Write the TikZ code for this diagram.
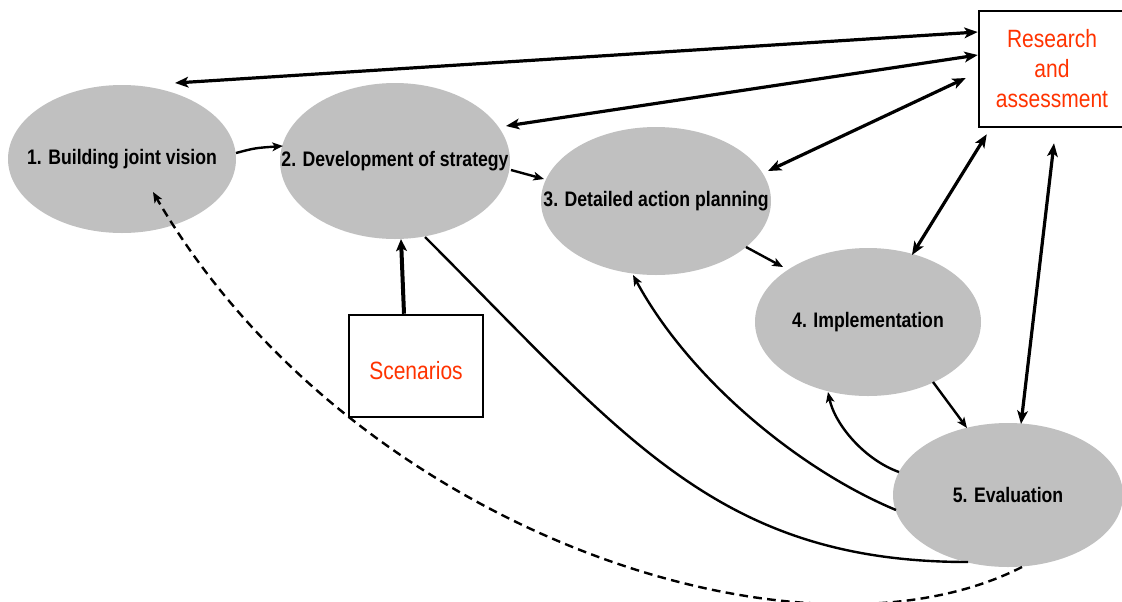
\documentclass[tikz,border=0pt]{standalone}
\usepackage{fontspec}
\setmainfont{Liberation Sans}[FakeStretch=0.84]
\usetikzlibrary{arrows.meta,calc,shapes.geometric}
\definecolor{orng}{RGB}{255,51,0}
\definecolor{ellgray}{RGB}{192,192,192}
\begin{document}
\begin{tikzpicture}[x=0.75pt,y=-0.75pt,
  stage/.style={ellipse, fill=ellgray, inner sep=0pt, font=\bfseries\fontsize{15.75}{18}\selectfont},
  src/.style={draw, line width=1.9pt, inner sep=0pt, text=orng, font=\fontsize{18.75}{22.5}\selectfont, align=center},
  link/.style={line width=2.4pt, {Stealth[length=10pt,width=8pt,inset=2.5pt]}-{Stealth[length=10pt,width=8pt,inset=2.5pt]}},
  flow/.style={line width=1.8pt, -{Stealth[length=8pt,width=6.5pt,inset=2pt]}},
  plainflow/.style={line width=1.8pt},
  dashflow/.style={line width=1.8pt, dash pattern=on 6.5pt off 4pt, -{Stealth[length=8pt,width=6.5pt,inset=2pt]}},
  feed/.style={line width=3pt, -{Stealth[length=9pt,width=8pt,inset=2pt]}}]
\useasboundingbox (0,0) rectangle (1122,601);
\clip (0,0) rectangle (1122,601);
\fill[white] (0,0) rectangle (1122,601);

% stages
\node[stage, minimum width=171pt, minimum height=111pt] (e1) at (122,159) {\makebox[0pt]{1. Building joint vision}};
\node[stage, minimum width=172.5pt, minimum height=117pt] (e2) at (395,161) {\makebox[0pt]{2. Development of strategy}};
\node[stage, minimum width=172.5pt, minimum height=111pt] (e3) at (656,201) {\makebox[0pt]{3. Detailed action planning}};
\node[stage, minimum width=169.5pt, minimum height=111pt] (e4) at (868,322) {\makebox[0pt]{4. Implementation}};
\node[stage, minimum width=172.5pt, minimum height=108pt] (e5) at (1008,495) {\makebox[0pt]{5. Evaluation}};

% sources
\node[src, minimum width=109.5pt, minimum height=87pt] (res) at (1052,69) {Research\\and\\assessment};
\node[src, minimum width=100.5pt, minimum height=76.5pt, text height=21pt, text depth=1pt] (scen) at (416,366) {Scenarios};

% research links
\draw[link] ($(res.west)+(0,-37)$) -- ($(e1)+(53,-76)$);
\draw[link] ($(res.west)+(0,-14)$) -- ($(e2)+(111,-35)$);
\draw[link] ($(res.west)+(-12,9)$) -- ($(e3)+(112,-30)$);
\draw[link] ($(res.south west)+(9,6)$) -- ($(e4)+(44,-67)$);
\draw[link] ($(res.south)+(2,15)$) -- ($(e5)+(13,-71)$);

% main flow
\draw[flow] ($(e1)+(114,-6)$) .. controls (255,148) .. ($(e2)+(-112,-15)$);
\draw[flow] ($(e2)+(116,9)$) -- ($(e3)+(-112,-22)$);
\draw[flow] ($(e3)+(90,46)$) -- ($(e4)+(-85,-55)$);
\draw[flow] ($(e4)+(65,60)$) -- ($(e5)+(-41,-67)$);

% feedback
\draw[flow] ($(e5)+(-109,-23)$) .. controls (865,460) and (835,425) .. ($(e4)+(-40,70)$);
\draw[flow] ($(e5)+(-112,15)$) .. controls (800,470) and (690,380) .. ($(e3)+(-23,74)$);
\draw[plainflow] ($(e2)+(30,76)$) .. controls (625,437) and (718,562) .. ($(e5)+(-40,67)$);
\draw[dashflow] ($(e5)+(14,72)$) .. controls (800,680) and (350,530) .. ($(e1)+(31,33)$);

% scenarios
\draw[feed] ($(scen.north)+(-12,0)$) -- ($(e2)+(6,78)$);
\end{tikzpicture}
\end{document}
